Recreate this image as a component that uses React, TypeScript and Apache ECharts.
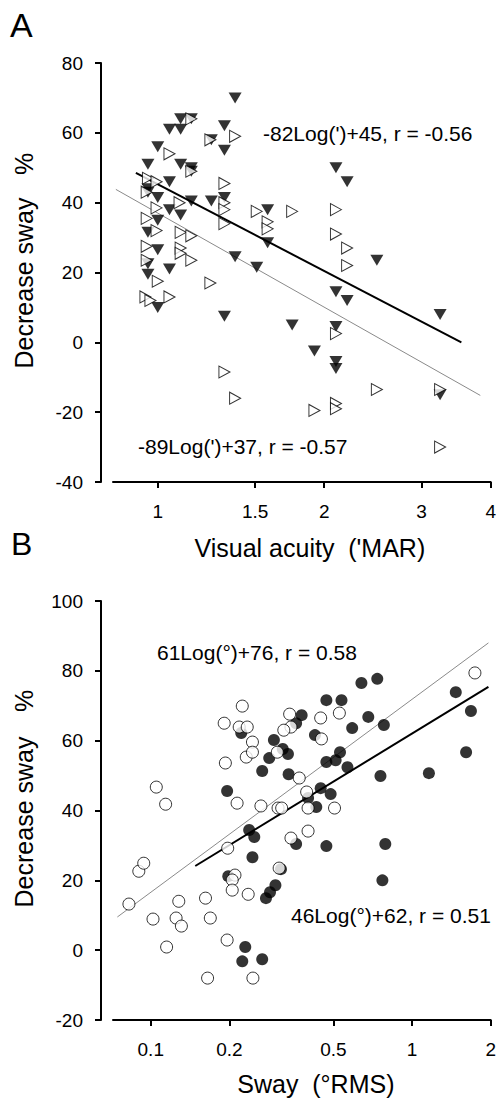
import React, { useEffect, useRef } from "react";
import * as echarts from "echarts";

// ---------- Panel A data (Visual acuity 'MAR vs Decrease sway %) ----------
const blackTriX = [0.96, 1.0, 1.05, 1.10, 1.10, 1.15, 1.10, 1.15, 1.25, 1.32, 1.32, 1.38, 0.96, 1.0, 1.05, 1.05, 1.10, 1.15, 1.25, 1.32, 1.0, 0.96, 1.0, 1.38, 1.58, 1.58, 2.10, 2.20, 2.49, 0.96, 0.96, 1.05, 1.0, 1.51, 1.32, 1.75, 1.92, 2.10, 2.20, 2.10, 2.10, 2.10, 3.24, 3.24, 0.96, 1.15];
const blackTriY = [51, 56, 61, 61, 64, 64, 51, 50, 58, 62, 55, 70, 44, 41.5, 46, 38, 36.5, 40.5, 40.5, 41.5, 35, 31.5, 26.5, 24.5, 38, 28.5, 50, 46, 23.5, 22.5, 19.5, 21, 10, 21.5, 7.5, 5, -2.5, 14.5, 12, 4.5, -5.5, -7.5, 8, -15, 43, 49];
const whiteTriX = [1.15, 1.05, 1.245, 1.38, 1.15, 0.96, 0.995, 1.32, 0.955, 1.095, 0.995, 1.32, 1.32, 1.32, 0.955, 1.10, 1.15, 0.995, 0.955, 1.10, 1.51, 1.58, 1.58, 1.75, 2.10, 2.10, 2.20, 0.955, 0.95, 0.97, 1.0, 1.05, 1.10, 1.15, 1.245, 1.32, 1.38, 1.92, 2.10, 2.10, 2.10, 2.20, 2.49, 3.24, 3.24];
const whiteTriY = [64, 54, 58, 59, 49, 47, 46, 45.5, 43, 40, 38.5, 40, 38, 34, 35.5, 31.5, 30.5, 32, 27.5, 27, 37.5, 34.5, 32.5, 37.5, 38, 31, 27, 23.5, 13, 12, 17.5, 13, 25.5, 23.5, 17, -8.5, -16, -19.5, 2.5, -17.5, -19, 22, -13.5, -13.5, -30];
const fitABlackX = [0.913, 3.54];
const fitABlackY = [48.5, 0];
const fitAGrayX = [0.84, 3.83];
const fitAGrayY = [43.8, -15.2];
const ticksAX = [1, 1.5, 2, 3, 4];

// ---------- Panel B data (Sway °RMS vs Decrease sway %) ----------
const blackCircX = [0.736, 0.64, 1.47, 1.68, 1.61, 1.16, 0.757, 0.78, 0.68, 0.47, 0.537, 0.59, 0.378, 0.36, 0.425, 0.222, 0.296, 0.32, 0.335, 0.284, 0.267, 0.337, 0.47, 0.51, 0.53, 0.566, 0.447, 0.488, 0.40, 0.43, 0.196, 0.238, 0.249, 0.36, 0.47, 0.245, 0.198, 0.315, 0.30, 0.286, 0.276, 0.79, 0.77, 0.23, 0.224, 0.267];
const blackCircY = [77.7, 76.5, 73.9, 68.5, 56.7, 50.7, 49.9, 64.5, 66.8, 71.6, 71.6, 63.6, 67.3, 65, 61.6, 62.2, 60.2, 57.6, 56.2, 55, 51.3, 50.4, 53.9, 54.4, 56.7, 52.4, 46.4, 44.7, 43.6, 41, 45.6, 34.4, 32.4, 30.4, 29.8, 26.6, 21.2, 23.2, 18.6, 16.6, 14.9, 30.4, 20, 0.9, -3.2, -2.6];
const whiteCircX = [1.74, 0.224, 0.191, 0.218, 0.234, 0.245, 0.232, 0.245, 0.193, 0.34, 0.344, 0.323, 0.447, 0.527, 0.45, 0.305, 0.37, 0.395, 0.105, 0.114, 0.214, 0.264, 0.307, 0.317, 0.40, 0.505, 0.344, 0.40, 0.197, 0.31, 0.21, 0.205, 0.205, 0.236, 0.162, 0.169, 0.0825, 0.09, 0.094, 0.102, 0.128, 0.125, 0.131, 0.115, 0.196, 0.165, 0.246];
const whiteCircY = [79.4, 69.9, 65, 63.9, 63.9, 59.6, 55.3, 56.7, 53.6, 67.6, 63.9, 63, 66.5, 67.9, 60.5, 56.7, 49.3, 45.3, 46.7, 41.8, 42.1, 41.3, 40.7, 40.7, 40.7, 40.7, 32.1, 34.1, 29.2, 23.5, 21.5, 20.1, 17.2, 16, 14.9, 9.2, 13.2, 22.6, 24.9, 8.9, 14, 9.2, 6.9, 0.9, 2.9, -8, -8];
const fitBBlackX = [0.148, 1.96];
const fitBBlackY = [24.1, 75.4];
const fitBGrayX = [0.0745, 1.96];
const fitBGrayY = [9.5, 88];
const ticksBX = [0.1, 0.2, 0.5, 1, 2];

const FONT = "'Liberation Sans', Arial, Helvetica, sans-serif";

const lg = (v: number) => Math.log10(v);
const pts = (xs: number[], ys: number[]) => xs.map((x, i) => [lg(x), ys[i]]);
const fmt = (v: number) => String(parseFloat(Math.pow(10, v).toPrecision(3)));

function xAxisDef(gridIndex: number, min: number, max: number, ticks: number[], name: string, nameGap: number, padLeft: number) {
  const custom = ticks.map(lg);
  return {
    type: "value",
    gridIndex,
    min,
    max,
    axisLine: { onZero: false, lineStyle: { color: "#000", width: 2 } },
    axisTick: { customValues: custom, length: 6, lineStyle: { color: "#000", width: 2 } },
    axisLabel: { customValues: custom, formatter: fmt, color: "#000", fontSize: 19, fontFamily: FONT, margin: 20 },
    splitLine: { show: false },
    name,
    nameLocation: "middle",
    nameGap,
    nameTextStyle: { color: "#000", fontSize: 25, fontFamily: FONT, padding: [0, 0, 0, padLeft] },
  };
}

function yAxisDef(gridIndex: number, min: number, max: number) {
  return {
    type: "value",
    gridIndex,
    min,
    max,
    interval: 20,
    offset: 12,
    axisLine: { show: true, onZero: false, lineStyle: { color: "#000", width: 2 } },
    axisTick: { show: true, length: 6, lineStyle: { color: "#000", width: 2 } },
    axisLabel: { color: "#000", fontSize: 19, fontFamily: FONT, margin: 18 },
    splitLine: { show: false },
  };
}

function text(x: number, y: number, t: string, size: number, align = "left", rotation = 0) {
  return {
    type: "text",
    x,
    y,
    rotation,
    style: { text: t, fill: "#000", font: `${size}px ${FONT}`, align, verticalAlign: "middle" },
  };
}

export default function App() {
  const ref = useRef<HTMLDivElement>(null);
  useEffect(() => {
    if (!ref.current) return;
    const chart = echarts.init(ref.current, null, { renderer: "svg" });
    const option = {
      animation: false,
      backgroundColor: "#fff",
      grid: [
        { left: 113, top: 63, width: 380, height: 419 },
        { left: 113, top: 601, width: 380, height: 419 },
      ],
      xAxis: [
        xAxisDef(0, -0.0809, lg(4), ticksAX, "Visual acuity  ('MAR)", 53, 16),
        xAxisDef(1, -1.1445, lg(2), ticksBX, "Sway  (°RMS)", 51, 28),
      ],
      yAxis: [yAxisDef(0, -40, 80), yAxisDef(1, -20, 100)],
      series: [
        {
          type: "line", xAxisIndex: 0, yAxisIndex: 0, data: pts(fitAGrayX, fitAGrayY),
          symbol: "none", lineStyle: { color: "#8a8a8a", width: 1 }, z: 1,
        },
        {
          type: "line", xAxisIndex: 0, yAxisIndex: 0, data: pts(fitABlackX, fitABlackY),
          symbol: "none", lineStyle: { color: "#000", width: 2 }, z: 1,
        },
        {
          type: "scatter", xAxisIndex: 0, yAxisIndex: 0, data: pts(blackTriX, blackTriY),
          symbol: "triangle", symbolRotate: 180, symbolSize: [13, 11],
          itemStyle: { color: "#000" }, z: 2,
        },
        {
          type: "scatter", xAxisIndex: 0, yAxisIndex: 0, data: pts(whiteTriX, whiteTriY),
          symbol: "triangle", symbolRotate: -90, symbolSize: [12, 11],
          itemStyle: { color: "#fff", borderColor: "#000", borderWidth: 1 }, z: 3,
        },
        {
          type: "line", xAxisIndex: 1, yAxisIndex: 1, data: pts(fitBGrayX, fitBGrayY),
          symbol: "none", lineStyle: { color: "#8a8a8a", width: 1 }, z: 1,
        },
        {
          type: "line", xAxisIndex: 1, yAxisIndex: 1, data: pts(fitBBlackX, fitBBlackY),
          symbol: "none", lineStyle: { color: "#000", width: 2 }, z: 1,
        },
        {
          type: "scatter", xAxisIndex: 1, yAxisIndex: 1, data: pts(blackCircX, blackCircY),
          symbol: "circle", symbolSize: 12, itemStyle: { color: "#000" }, z: 2,
        },
        {
          type: "scatter", xAxisIndex: 1, yAxisIndex: 1, data: pts(whiteCircX, whiteCircY),
          symbol: "circle", symbolSize: 12,
          itemStyle: { color: "#fff", borderColor: "#000", borderWidth: 1 }, z: 3,
        },
      ],
      graphic: [
        text(10, 25, "A", 34),
        text(11, 544, "B", 32),
        text(24, 283, "Decrease sway", 25, "center", Math.PI / 2),
        text(24, 164, "%", 25, "center", Math.PI / 2),
        text(24, 822, "Decrease sway", 25, "center", Math.PI / 2),
        text(24, 701, "%", 25, "center", Math.PI / 2),
        text(263, 133, "-82Log(')+45, r = -0.56", 21),
        text(138, 446, "-89Log(')+37, r = -0.57", 21),
        text(157, 652, "61Log(°)+76, r = 0.58", 21),
        text(291, 915, "46Log(°)+62, r = 0.51", 21),
      ],
    };
    chart.setOption(option as any);
    return () => chart.dispose();
  }, []);
  return (
    <div
      ref={ref}
      style={{ position: "absolute", left: 0, top: 0, width: 499, height: 1102, background: "#fff" }}
    />
  );
}
